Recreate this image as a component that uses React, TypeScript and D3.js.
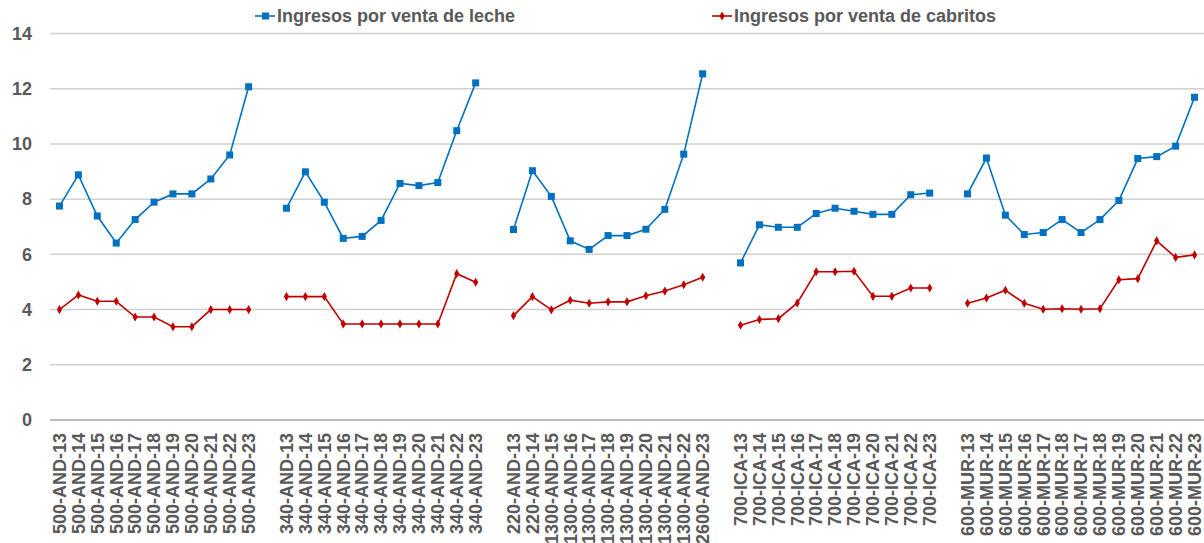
import React, { useEffect, useRef } from 'react';
import * as d3 from 'd3';

const width = 1204;
const height = 543;
const margin = { top: 33.5, right: 0, bottom: 123, left: 50 };

// x categories, "" marks the empty slot between groups
const categories = [
  '500-AND-13', '500-AND-14', '500-AND-15', '500-AND-16', '500-AND-17', '500-AND-18',
  '500-AND-19', '500-AND-20', '500-AND-21', '500-AND-22', '500-AND-23', '',
  '340-AND-13', '340-AND-14', '340-AND-15', '340-AND-16', '340-AND-17', '340-AND-18',
  '340-AND-19', '340-AND-20', '340-AND-21', '340-AND-22', '340-AND-23', '',
  '220-AND-13', '220-AND-14', '1300-AND-15', '1300-AND-16', '1300-AND-17', '1300-AND-18',
  '1300-AND-19', '1300-AND-20', '1300-AND-21', '1300-AND-22', '2600-AND-23', '',
  '700-ICA-13', '700-ICA-14', '700-ICA-15', '700-ICA-16', '700-ICA-17', '700-ICA-18',
  '700-ICA-19', '700-ICA-20', '700-ICA-21', '700-ICA-22', '700-ICA-23', '',
  '600-MUR-13', '600-MUR-14', '600-MUR-15', '600-MUR-16', '600-MUR-17', '600-MUR-18',
  '600-MUR-17', '600-MUR-18', '600-MUR-19', '600-MUR-20', '600-MUR-21', '600-MUR-22', '600-MUR-23',
];

const leche = [
  7.75, 8.88, 7.39, 6.41, 7.26, 7.89, 8.19, 8.19, 8.73, 9.6, 12.07, null,
  7.67, 8.99, 7.89, 6.58, 6.65, 7.23, 8.57, 8.49, 8.6, 10.48, 12.21, null,
  6.9, 9.03, 8.1, 6.49, 6.18, 6.68, 6.68, 6.91, 7.63, 9.63, 12.54, null,
  5.69, 7.07, 6.98, 6.98, 7.48, 7.67, 7.56, 7.45, 7.45, 8.16, 8.22, null,
  8.19, 9.49, 7.42, 6.72, 6.79, 7.26, 6.79, 7.26, 7.95, 9.47, 9.54, 9.92, 11.69,
];

const cabritos = [
  4.0, 4.53, 4.3, 4.3, 3.73, 3.73, 3.38, 3.38, 4.0, 4.0, 4.0, null,
  4.47, 4.47, 4.47, 3.48, 3.48, 3.48, 3.48, 3.48, 3.48, 5.3, 4.99, null,
  3.78, 4.47, 3.99, 4.34, 4.23, 4.28, 4.28, 4.5, 4.67, 4.9, 5.17, null,
  3.43, 3.64, 3.67, 4.24, 5.37, 5.37, 5.39, 4.48, 4.48, 4.78, 4.78, null,
  4.23, 4.42, 4.7, 4.23, 4.01, 4.03, 4.01, 4.03, 5.08, 5.12, 6.49, 5.89, 5.98,
];

const yTicks = [0, 2, 4, 6, 8, 10, 12, 14];

const blue = '#0070C0';
const red = '#C00000';
const textColor = '#595959';
const font = '"Liberation Sans", Arial, sans-serif';

const App = () => {
  const ref = useRef<SVGSVGElement>(null);

  useEffect(() => {
    const svg = d3.select(ref.current);
    svg.selectAll('*').remove();

    const x = d3.scaleBand<number>()
      .domain(d3.range(categories.length))
      .range([margin.left, width - margin.right]);
    const cx = (i: number) => (x(i) as number) + x.bandwidth() / 2;

    const y = d3.scaleLinear()
      .domain([0, 14])
      .range([height - margin.bottom, margin.top]);

    // gridlines
    svg.append('g')
      .selectAll('line')
      .data(yTicks)
      .enter()
      .append('line')
      .attr('x1', margin.left)
      .attr('x2', width - margin.right)
      .attr('y1', d => y(d))
      .attr('y2', d => y(d))
      .attr('stroke', d => (d === 0 ? '#A6A6A6' : '#D0D0D0'))
      .attr('stroke-width', 1.5);

    // y tick labels
    svg.append('g')
      .selectAll('text')
      .data(yTicks)
      .enter()
      .append('text')
      .attr('x', 32)
      .attr('y', d => y(d))
      .attr('dy', '0.35em')
      .attr('text-anchor', 'end')
      .attr('fill', textColor)
      .style('font-family', font)
      .style('font-weight', 'bold')
      .style('font-size', '18px')
      .text(d => d);

    // x labels
    svg.append('g')
      .selectAll('text')
      .data(categories.map((c, i) => ({ c, i })).filter(d => d.c !== ''))
      .enter()
      .append('text')
      .attr('transform', d => `translate(${cx(d.i)},${height - margin.bottom + 13}) rotate(-90)`)
      .attr('dy', '0.35em')
      .attr('text-anchor', 'end')
      .attr('fill', textColor)
      .style('font-family', font)
      .style('font-weight', 'bold')
      .style('font-size', '18px')
      .text(d => d.c);

    const line = d3.line<number | null>()
      .defined(d => d !== null)
      .x((d, i) => cx(i))
      .y(d => y(d as number));

    // leche
    svg.append('path')
      .datum(leche)
      .attr('fill', 'none')
      .attr('stroke', blue)
      .attr('stroke-width', 1.6)
      .attr('d', line);
    svg.append('g')
      .selectAll('rect')
      .data(leche.map((v, i) => ({ v, i })).filter(d => d.v !== null))
      .enter()
      .append('rect')
      .attr('x', d => cx(d.i) - 3.5)
      .attr('y', d => y(d.v as number) - 3.5)
      .attr('width', 7)
      .attr('height', 7)
      .attr('fill', blue);

    // cabritos
    svg.append('path')
      .datum(cabritos)
      .attr('fill', 'none')
      .attr('stroke', red)
      .attr('stroke-width', 1.6)
      .attr('d', line);
    const diamond = d3.symbol().type(d3.symbolDiamond).size(24);
    svg.append('g')
      .selectAll('path')
      .data(cabritos.map((v, i) => ({ v, i })).filter(d => d.v !== null))
      .enter()
      .append('path')
      .attr('transform', d => `translate(${cx(d.i)},${y(d.v as number)})`)
      .attr('d', diamond)
      .attr('fill', red);

    // legend
    const legendItems = [
      { name: 'Ingresos por venta de leche', color: blue, x: 255, marker: 'square' },
      { name: 'Ingresos por venta de cabritos', color: red, x: 712, marker: 'diamond' },
    ];
    const lg = svg.append('g');
    legendItems.forEach(item => {
      const g = lg.append('g').attr('transform', `translate(${item.x},16)`);
      g.append('line')
        .attr('x1', 0).attr('x2', 20)
        .attr('stroke', item.color)
        .attr('stroke-width', 1.6);
      if (item.marker === 'square') {
        g.append('rect')
          .attr('x', 7).attr('y', -3.5)
          .attr('width', 7).attr('height', 7)
          .attr('fill', item.color);
      } else {
        g.append('path')
          .attr('transform', 'translate(10,0)')
          .attr('d', diamond)
          .attr('fill', item.color);
      }
      g.append('text')
        .attr('x', 22)
        .attr('dy', '0.35em')
        .attr('fill', textColor)
        .style('font-family', font)
        .style('font-weight', 'bold')
        .style('font-size', '18px')
        .text(item.name);
    });
  }, []);

  return (
    <svg
      ref={ref}
      width={width}
      height={height}
      style={{ position: 'absolute', left: 0, top: 0, background: '#fff' }}
    />
  );
};

export default App;
